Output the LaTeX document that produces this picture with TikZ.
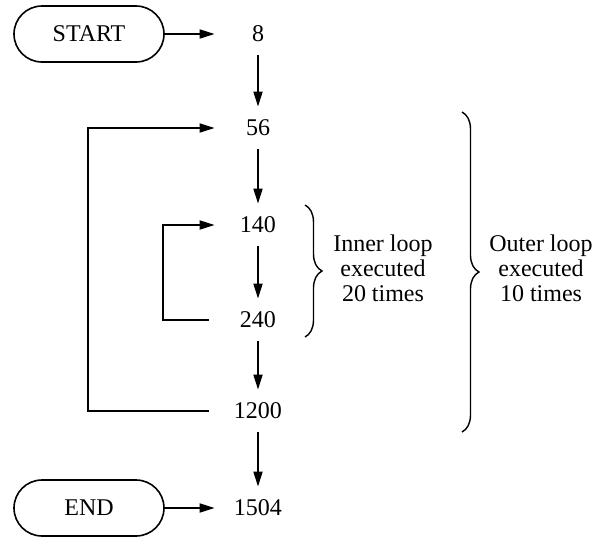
\documentclass[tikz,border=0pt]{standalone}
\usepackage{fontspec}
\setmainfont{Liberation Serif}
\usetikzlibrary{arrows.meta,shapes.misc,decorations.pathreplacing}

\begin{document}
\begin{tikzpicture}[
  x=0.5pt, y=-0.5pt,
  font=\fontsize{12}{12.5}\selectfont,
  term/.style={draw, rounded rectangle, line width=0.8pt, minimum width=75pt,
               minimum height=28pt, inner sep=0pt},
  num/.style={minimum width=43pt, minimum height=21pt, inner sep=0pt},
  ar/.style={line width=0.9pt, -{Triangle[length=7.5pt,width=4.5pt]}},
  brc/.style={line width=0.7pt, decorate, decoration={brace, amplitude=8.5pt}},
  note/.style={align=center},
]
\useasboundingbox (0,0) rectangle (596,537);

%% ---------- terminals ----------
\node[term] (start) at (89,34) {START};
\node[term] (end) at (89,508) {END};

%% ---------- counts ----------
\foreach \n/\yy in {8/34, 56/128, 140/225, 240/320, 1200/411, 1504/508}
  \node[num] (n\n) at (258,\yy) {\n};

\draw[ar] (start) -- (n8);
\draw[ar] (end) -- (n1504);
\foreach \a/\b in {8/56,56/140,140/240,240/1200,1200/1504}{\draw[ar] (n\a) -- (n\b);}

%% ---------- loops ----------
\draw[ar, shorten <=3pt] (n240.west) -- ++(-52,0) |- (n140.west);
\draw[ar, shorten <=3pt] (n1200.west) -- ++(-127,0) |- (n56.west);

%% ---------- braces ----------
\coordinate (ib1) at (305,205);
\coordinate (ib2) at (305,337);
\coordinate (ob1) at (462,112);
\coordinate (ob2) at (462,432);
\draw[brc] (ib1) -- (ib2);
\draw[brc] (ob1) -- (ob2);
\node[note] (inner) at (383,268) {Inner loop\\executed\\20 times};
\node[note] (outer) at (541,268) {Outer loop\\executed\\10 times};

\end{tikzpicture}
\end{document}
